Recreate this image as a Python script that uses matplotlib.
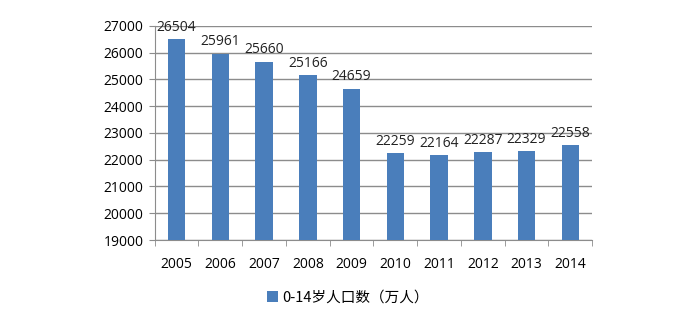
import matplotlib
matplotlib.use("Agg")
import matplotlib.pyplot as plt
import numpy as np

plt.rcParams['font.family'] = ['Open Sans', 'Noto Sans CJK SC', 'DejaVu Sans']

years = ["2005", "2006", "2007", "2008", "2009", "2010", "2011", "2012", "2013", "2014"]
population = [26504, 25961, 25660, 25166, 24659, 22259, 22164, 22287, 22329, 22558]
series_name = "0-14岁人口数（万人）"

bar_color = "#4a7ebb"
grid_color = "#8c8c8c"

fig = plt.figure(figsize=(7, 3.2), dpi=100)
ax = fig.add_axes([0.221, 0.25, 0.625, 0.669])

x = np.arange(len(years))
bars = ax.bar(x, population, width=0.4, color=bar_color, label=series_name, zorder=3)

for xi, v in zip(x, population):
    ax.text(xi, v + 160, str(v), ha="center", va="bottom", fontsize=10, color="#222222", zorder=4)

ax.set_ylim(19000, 27000)
ax.set_yticks(range(19000, 27001, 1000))
ax.set_xlim(-0.5, len(years) - 0.5)
ax.yaxis.grid(True, color=grid_color, linewidth=1, zorder=0)

ax.set_xticks(x)
ax.set_xticklabels(years)
ax.set_xticks(np.arange(-0.5, len(years), 1), minor=True)
ax.tick_params(axis="x", which="major", length=0, pad=12, labelsize=10)
ax.tick_params(axis="x", which="minor", length=4, color=grid_color)
ax.tick_params(axis="y", length=4, color=grid_color, labelsize=10, pad=4)

for side in ["top", "right"]:
    ax.spines[side].set_visible(False)
ax.spines["left"].set_color(grid_color)
ax.spines["bottom"].set_color(grid_color)

fig.legend(handles=[bars], labels=[series_name], loc="center", bbox_to_anchor=(0.497, 0.07),
           frameon=False, prop={'family': ['Noto Sans CJK SC', 'DejaVu Sans'], 'size': 10.5},
           handlelength=0.7, handleheight=0.7, handletextpad=0.3)

fig.savefig("out.png", dpi=100, facecolor="white")
